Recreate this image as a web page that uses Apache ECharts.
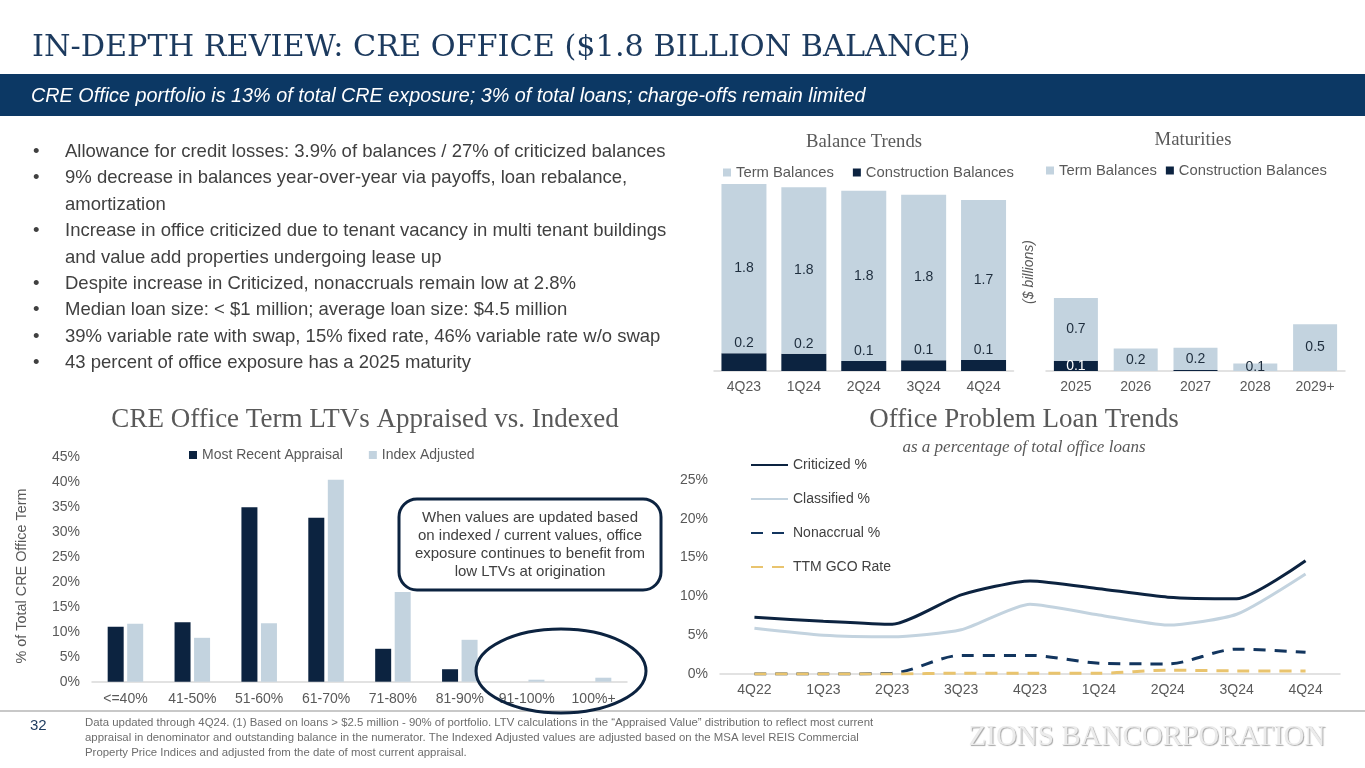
<!DOCTYPE html>
<html>
<head>
<meta charset="utf-8">
<script src="https://cdn.jsdelivr.net/npm/echarts@6/dist/echarts.min.js"></script>
<style>
html,body{margin:0;padding:0;background:#fff;}
#c{width:1365px;height:768px;}
</style>
</head>
<body>
<div id="c"></div>
<script>
// ---------- data ----------
const balanceCats = ['4Q23', '1Q24', '2Q24', '3Q24', '4Q24'];
const balanceTerm = [1.81, 1.78, 1.82, 1.77, 1.71];
const balanceConstruction = [0.19, 0.185, 0.107, 0.114, 0.118];

const maturityCats = ['2025', '2026', '2027', '2028', '2029+'];
const maturityTerm = [0.67, 0.24, 0.24, 0.08, 0.50];
const maturityConstruction = [0.11, 0, 0.01, 0, 0];

const ltvCats = ['<=40%', '41-50%', '51-60%', '61-70%', '71-80%', '81-90%', '91-100%', '100%+'];
const ltvAppraisal = [11.0, 11.9, 35.0, 32.9, 6.6, 2.5, 0, 0];
const ltvIndexed = [11.6, 8.8, 11.7, 40.5, 18.0, 8.4, 0.4, 0.8];
const ltvTicks = [0, 45, 5];

const loanCats = ['4Q22', '1Q23', '2Q23', '3Q23', '4Q23', '1Q24', '2Q24', '3Q24', '4Q24'];
const criticized = [7.3, 6.8, 6.4, 10.2, 12.0, 11.0, 9.9, 9.7, 14.6];
const classified = [5.9, 5.0, 4.8, 5.7, 9.0, 7.6, 6.3, 7.7, 12.9];
const nonaccrual = [0, 0, 0.1, 2.4, 2.4, 1.4, 1.3, 3.2, 2.8];
const gcoRate = [0, 0, 0, 0.1, 0.1, 0.1, 0.5, 0.4, 0.4];
const loanTicks = [0, 25, 5];

const bulletLines = [
  ['•', 'Allowance for credit losses: 3.9% of balances / 27% of criticized balances'],
  ['•', '9% decrease in balances year-over-year via payoffs, loan rebalance,'],
  ['', 'amortization'],
  ['•', 'Increase in office criticized due to tenant vacancy in multi tenant buildings'],
  ['', 'and value add properties undergoing lease up'],
  ['•', 'Despite increase in Criticized, nonaccruals remain low at 2.8%'],
  ['•', 'Median loan size: < $1 million; average loan size: $4.5 million'],
  ['•', '39% variable rate with swap, 15% fixed rate, 46% variable rate w/o swap'],
  ['•', '43 percent of office exposure has a 2025 maturity']
];
const footnoteLines = [
  'Data updated through 4Q24. (1) Based on loans > $2.5 million - 90% of portfolio. LTV calculations in the \u201CAppraised Value\u201D distribution to reflect most current',
  'appraisal in denominator and outstanding balance in the numerator. The Indexed Adjusted values are adjusted based on the MSA level REIS Commercial',
  'Property Price Indices and adjusted from the date of most current appraisal.'
];

// ---------- styles ----------
const NAVY = '#0c2340';
const LIGHT = '#c3d3df';
const GOLD = '#e9c46e';
const AXIS = '#595959';
const SANS = 'Liberation Sans, Arial, sans-serif';
const SERIF = 'DejaVu Serif, serif';
const TSERIF = 'Liberation Serif, serif';

function txt(x, y, text, o) {
  o = o || {};
  return {
    type: 'text', x: x, y: y, rotation: o.rotation || 0, z: o.z || 10,
    style: {
      text: text,
      fill: o.fill || '#404040',
      fontSize: o.size || 14,
      fontFamily: o.family || SANS,
      fontStyle: o.style || 'normal',
      fontWeight: o.weight || 'normal',
      align: o.align || 'left', textAlign: o.align || 'left',
      verticalAlign: 'middle', textVerticalAlign: 'middle',
      lineHeight: o.lineHeight,
      textShadowColor: o.shadowColor, textShadowBlur: o.shadowBlur || 0,
      textShadowOffsetX: o.shadowX || 0, textShadowOffsetY: o.shadowY || 0
    }
  };
}

const graphics = [];
// title
graphics.push(txt(32, 48, 'IN-DEPTH REVIEW: CRE OFFICE ($1.8 BILLION BALANCE)', {size: 30.3, family: SERIF, fill: '#1c3a5e'}));
// banner
graphics.push({type: 'rect', shape: {x: 0, y: 74, width: 1365, height: 42}, style: {fill: '#0c3864'}, z: 1});
graphics.push(txt(31, 96, 'CRE Office portfolio is 13% of total CRE exposure; 3% of total loans; charge-offs remain limited', {size: 19.8, style: 'italic', fill: '#ffffff'}));
// bullets
bulletLines.forEach(function (b, i) {
  const y = 152 + i * 26.4;
  if (b[0]) graphics.push(txt(33, y, b[0], {size: 18.5, fill: '#404040'}));
  graphics.push(txt(65, y, b[1], {size: 18.5, fill: '#404040'}));
});
// chart titles
graphics.push(txt(864, 142, 'Balance Trends', {size: 18.7, family: TSERIF, fill: AXIS, align: 'center'}));
graphics.push(txt(1193, 140, 'Maturities', {size: 18.7, family: TSERIF, fill: AXIS, align: 'center'}));
graphics.push(txt(1029, 272, '($ billions)', {size: 14, style: 'italic', fill: AXIS, align: 'center', rotation: Math.PI / 2}));
graphics.push(txt(365, 420, 'CRE Office Term LTVs Appraised vs. Indexed', {size: 27, family: TSERIF, fill: AXIS, align: 'center'}));
graphics.push(txt(22, 576, '% of Total CRE Office Term', {size: 14.4, fill: AXIS, align: 'center', rotation: Math.PI / 2}));
graphics.push(txt(1024, 420, 'Office Problem Loan Trends', {size: 27, family: TSERIF, fill: AXIS, align: 'center'}));
graphics.push(txt(1024, 448, 'as a percentage of total office loans', {size: 17, family: TSERIF, style: 'italic', fill: AXIS, align: 'center'}));
// callout
graphics.push({type: 'rect', shape: {x: 399, y: 499, width: 262, height: 91, r: 18}, style: {fill: '#ffffff', stroke: NAVY, lineWidth: 3}, z: 20});
graphics.push(txt(530, 545, 'When values are updated based\non indexed / current values, office\nexposure continues to benefit from\nlow LTVs at origination', {size: 15, fill: '#404040', align: 'center', lineHeight: 18, z: 21}));
// footer line
graphics.push({type: 'line', shape: {x1: 0, y1: 711, x2: 1365, y2: 711}, style: {stroke: '#c8c8c8', lineWidth: 2}, z: 5});
// ellipse
graphics.push({type: 'ellipse', shape: {cx: 561, cy: 671, rx: 85, ry: 42}, style: {fill: null, stroke: NAVY, lineWidth: 3}, z: 22});
// footer
graphics.push(txt(30, 726, '32', {size: 15, fill: '#1c3a5e'}));
footnoteLines.forEach(function (l, i) {
  graphics.push(txt(85, 723 + i * 15, l, {size: 11.4, fill: '#6d6d6d'}));
});
graphics.push(txt(1147, 737, 'ZIONS BANCORPORATION', {size: 29, family: TSERIF, fill: '#ebebeb', align: 'center', shadowColor: 'rgba(0,0,0,0.35)', shadowBlur: 1, shadowX: 1, shadowY: 1}));

const axisLabel = {color: AXIS, fontSize: 14, fontFamily: SANS};
const legendText = {color: AXIS, fontSize: 14.8, fontFamily: SANS};

const option = {
  animation: false,
  textStyle: {fontFamily: SANS},
  grid: [
    {left: 714, top: 184, width: 299.5, height: 187},
    {left: 1046, top: 184, width: 299, height: 187},
    {left: 92, top: 457.3, width: 535, height: 224.4},
    {left: 720, top: 480, width: 620, height: 194}
  ],
  xAxis: [
    {type: 'category', gridIndex: 0, data: balanceCats, axisTick: {show: false}, axisLine: {lineStyle: {color: '#d9d9d9', width: 1.5}}, axisLabel: Object.assign({margin: 9}, axisLabel)},
    {type: 'category', gridIndex: 1, data: maturityCats, axisTick: {show: false}, axisLine: {lineStyle: {color: '#d9d9d9', width: 1.5}}, axisLabel: Object.assign({margin: 9}, axisLabel)},
    {type: 'category', gridIndex: 2, data: ltvCats, axisTick: {show: false}, axisLine: {lineStyle: {color: '#d9d9d9', width: 1.5}}, axisLabel: Object.assign({margin: 10, interval: 0}, axisLabel)},
    {type: 'category', gridIndex: 3, data: loanCats, axisTick: {show: false}, axisLine: {lineStyle: {color: '#d9d9d9', width: 1.5}}, axisLabel: Object.assign({margin: 9, interval: 0}, axisLabel)}
  ],
  yAxis: [
    {type: 'value', gridIndex: 0, min: 0, max: 2, show: false},
    {type: 'value', gridIndex: 1, min: 0, max: 2, show: false},
    {type: 'value', gridIndex: 2, min: ltvTicks[0], max: ltvTicks[1], interval: ltvTicks[2], axisLine: {show: false}, axisTick: {show: false}, splitLine: {show: false}, axisLabel: Object.assign({margin: 12, formatter: '{value}%'}, axisLabel)},
    {type: 'value', gridIndex: 3, min: loanTicks[0], max: loanTicks[1], interval: loanTicks[2], axisLine: {show: false}, axisTick: {show: false}, splitLine: {show: false}, axisLabel: Object.assign({margin: 12, formatter: '{value}%'}, axisLabel)}
  ],
  legend: [
    {data: ['Term Balances', 'Construction Balances'], left: 723, top: 165, padding: 0, itemWidth: 8, itemHeight: 8, itemGap: 19, icon: 'rect', textStyle: legendText},
    {data: ['Term Balances', 'Construction Balances'], left: 1046, top: 163, padding: 0, itemWidth: 8, itemHeight: 8, itemGap: 9, icon: 'rect', textStyle: legendText},
    {data: ['Most Recent Appraisal', 'Index Adjusted'], left: 189, top: 448, padding: 0, itemWidth: 8, itemHeight: 8, itemGap: 26, icon: 'rect', textStyle: {color: AXIS, fontSize: 14, fontFamily: SANS}},
    {data: ['Criticized %', 'Classified %', 'Nonaccrual %', 'TTM GCO Rate'], orient: 'vertical', left: 750, top: 458, padding: 0, itemWidth: 37, itemHeight: 14, itemGap: 20, itemStyle: {opacity: 0, color: 'rgba(0,0,0,0)', borderWidth: 0}, textStyle: {color: '#404040', fontSize: 14, fontFamily: SANS}}
  ],
  graphic: graphics,
  series: [
    {name: 'Construction Balances', type: 'bar', xAxisIndex: 0, yAxisIndex: 0, stack: 'bal', data: balanceConstruction, barWidth: 45, itemStyle: {color: NAVY},
      label: {show: true, position: 'top', distance: 3, color: '#1e2d3d', fontSize: 14, formatter: function (p) { return p.value.toFixed(1); }}},
    {name: 'Term Balances', type: 'bar', xAxisIndex: 0, yAxisIndex: 0, stack: 'bal', data: balanceTerm, barWidth: 45, itemStyle: {color: LIGHT},
      label: {show: true, position: 'inside', color: '#1e2d3d', fontSize: 14, formatter: function (p) { return p.value.toFixed(1); }}},
    {name: 'Construction Balances', type: 'bar', xAxisIndex: 1, yAxisIndex: 1, stack: 'mat', data: maturityConstruction, barWidth: 44, itemStyle: {color: NAVY},
      label: {show: true, position: 'inside', color: '#ffffff', fontSize: 14, formatter: function (p) { return p.value >= 0.05 ? p.value.toFixed(1) : ''; }}},
    {name: 'Term Balances', type: 'bar', xAxisIndex: 1, yAxisIndex: 1, stack: 'mat', data: maturityTerm, barWidth: 44, itemStyle: {color: LIGHT},
      label: {show: true, position: 'inside', color: '#1e2d3d', fontSize: 14, formatter: function (p) { return p.value.toFixed(1); }}},
    {name: 'Most Recent Appraisal', type: 'bar', xAxisIndex: 2, yAxisIndex: 2, data: ltvAppraisal, barWidth: 16, barGap: '22%', itemStyle: {color: NAVY}},
    {name: 'Index Adjusted', type: 'bar', xAxisIndex: 2, yAxisIndex: 2, data: ltvIndexed, barWidth: 16, barGap: '22%', itemStyle: {color: LIGHT}},
    {name: 'Criticized %', type: 'line', xAxisIndex: 3, yAxisIndex: 3, data: criticized, symbol: 'none', smooth: 0.2, lineStyle: {color: NAVY, width: 3}, itemStyle: {color: NAVY}},
    {name: 'Classified %', type: 'line', xAxisIndex: 3, yAxisIndex: 3, data: classified, symbol: 'none', smooth: 0.2, lineStyle: {color: LIGHT, width: 3}, itemStyle: {color: LIGHT}},
    {name: 'Nonaccrual %', type: 'line', xAxisIndex: 3, yAxisIndex: 3, data: nonaccrual, symbol: 'none', smooth: 0.3, lineStyle: {color: '#12355e', width: 3, type: [12, 9]}, itemStyle: {color: '#12355e'}},
    {name: 'TTM GCO Rate', type: 'line', xAxisIndex: 3, yAxisIndex: 3, data: gcoRate, symbol: 'none', smooth: 0.3, lineStyle: {color: GOLD, width: 3, type: [12, 9]}, itemStyle: {color: GOLD}}
  ]
};

const chart = echarts.init(document.getElementById('c'), null, {renderer: 'canvas'});
chart.setOption(option);
</script>
</body>
</html>
